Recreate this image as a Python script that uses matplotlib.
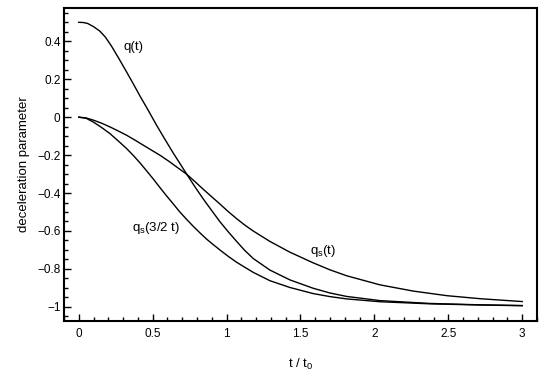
import matplotlib
matplotlib.use("Agg")
import matplotlib.pyplot as plt
from matplotlib.ticker import MultipleLocator, FuncFormatter

plt.rcParams['font.family'] = ['Liberation Sans', 'DejaVu Sans']
plt.rcParams['mathtext.fontset'] = 'custom'
plt.rcParams['mathtext.rm'] = 'Liberation Sans'
plt.rcParams['mathtext.default'] = 'regular'
plt.rcParams['axes.unicode_minus'] = True

# --- data ---
t_q = [0, 0.03, 0.06, 0.1, 0.142, 0.18, 0.221, 0.27, 0.323, 0.368, 0.413,
       0.47, 0.526, 0.58, 0.639, 0.685, 0.729, 0.785, 0.842, 0.9, 0.955,
       1.01, 1.068, 1.12, 1.18, 1.293, 1.429, 1.586, 1.7, 1.812, 2.038,
       2.376, 2.7, 3.0]
q = [0.50, 0.499, 0.494, 0.477, 0.454, 0.422, 0.375, 0.311, 0.239, 0.177,
     0.113, 0.036, -0.042, -0.113, -0.189, -0.245, -0.299, -0.366, -0.431,
     -0.493, -0.551, -0.603, -0.655, -0.700, -0.745, -0.806, -0.858, -0.902,
     -0.927, -0.945, -0.967, -0.982, -0.989, -0.993]

t_qs = [0, 0.05, 0.1, 0.155, 0.21, 0.265, 0.323, 0.38, 0.435, 0.49, 0.548,
        0.616, 0.67, 0.729, 0.785, 0.842, 0.9, 0.955, 1.01, 1.068, 1.12, 1.18,
        1.293, 1.429, 1.586, 1.7, 1.812, 2.038, 2.264, 2.49, 2.715, 3.0]
qs = [0, -0.004, -0.016, -0.032, -0.051, -0.072, -0.095, -0.121, -0.147,
      -0.173, -0.200, -0.236, -0.267, -0.300, -0.339, -0.380, -0.420, -0.458,
      -0.497, -0.535, -0.567, -0.600, -0.655, -0.712, -0.768, -0.805, -0.836,
      -0.884, -0.917, -0.941, -0.957, -0.972]

t_qs15 = [0, 0.05, 0.097, 0.15, 0.21, 0.265, 0.323, 0.368, 0.413, 0.458,
          0.503, 0.548, 0.594, 0.64, 0.684, 0.73, 0.774, 0.82, 0.865, 0.91,
          0.955, 1.01, 1.068, 1.18, 1.293, 1.429, 1.586, 1.7, 1.812, 2.038,
          2.376, 2.7, 3.0]
qs15 = [0, -0.006, -0.025, -0.052, -0.086, -0.124, -0.165, -0.201, -0.240,
        -0.282, -0.325, -0.370, -0.415, -0.458, -0.500, -0.539, -0.575, -0.610,
        -0.643, -0.672, -0.700, -0.733, -0.765, -0.818, -0.862, -0.898, -0.930,
        -0.946, -0.958, -0.973, -0.984, -0.990, -0.994]

fig = plt.figure(figsize=(5.45, 3.85), dpi=100)
ax = fig.add_axes([0.1174, 0.166, 0.8679, 0.813])

ax.plot(t_q, q, color='black', lw=1.0)
ax.plot(t_qs, qs, color='black', lw=1.0)
ax.plot(t_qs15, qs15, color='black', lw=1.0)

ax.text(0.305, 0.368, 'q(t)', fontsize=9.5, ha='left', va='center')
ax.text(0.357, -0.585, 'q$_\\mathrm{s}$(3/2 t)', fontsize=9.5, ha='left', va='center')
ax.text(1.564, -0.703, 'q$_\\mathrm{s}$(t)', fontsize=9.5, ha='left', va='center')

ax.set_xlim(-0.1, 3.1)
ax.set_ylim(-1.075, 0.575)

ax.xaxis.set_major_locator(MultipleLocator(0.5))
ax.xaxis.set_minor_locator(MultipleLocator(0.1))
ax.yaxis.set_major_locator(MultipleLocator(0.2))
ax.yaxis.set_minor_locator(MultipleLocator(0.05))
fmt = FuncFormatter(lambda v, p: ('%g' % round(v, 2)).replace('-', '\u2212'))
ax.xaxis.set_major_formatter(fmt)
ax.yaxis.set_major_formatter(fmt)

ax.tick_params(which='both', direction='in', top=False, right=False,
               labelsize=8.5, width=1.0)
ax.tick_params(which='major', length=5)
ax.tick_params(which='minor', length=2.8)
ax.tick_params(axis='x', pad=5)
ax.tick_params(axis='y', pad=2.5)

for s in ax.spines.values():
    s.set_linewidth(1.5)

ax.set_xlabel('t / t$_0$', fontsize=9.5, labelpad=12)
ax.set_ylabel('deceleration parameter', fontsize=9.5, labelpad=5)

fig.savefig('out.png', dpi=100)
